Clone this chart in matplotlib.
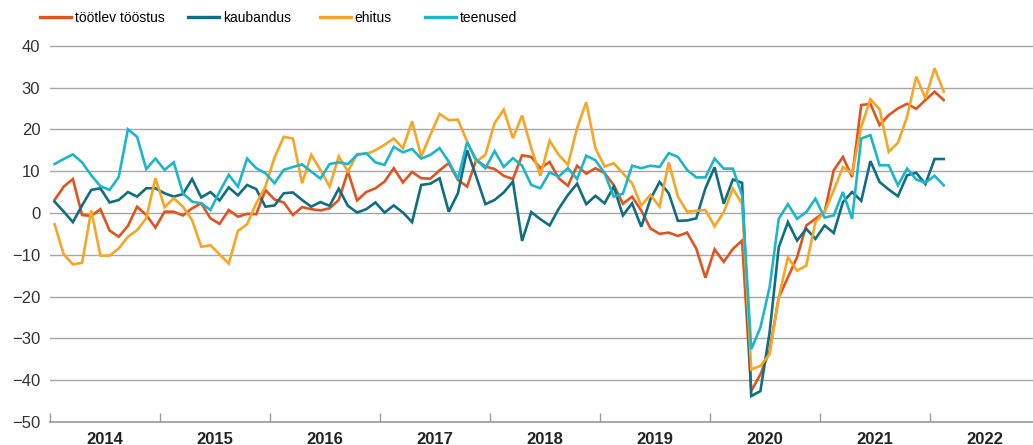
import numpy as np
import matplotlib
matplotlib.use("Agg")
import matplotlib.pyplot as plt
from matplotlib.ticker import FixedLocator, NullFormatter, FixedFormatter

# kuised andmed, jaanuar 2014 - veebruar 2022
start_year = 2014
years = [2014, 2015, 2016, 2017, 2018, 2019, 2020, 2021, 2022]

labels = ["töötlev tööstus", "kaubandus", "ehitus", "teenused"]
colors = ["#E0541F", "#0F6E82", "#F6A526", "#1BB6CC"]

tootlev = [
    3.1, 6.3, 8.1, -0.5, -0.7, 0.9, -4.2, -5.7, -3.1, 1.5, -0.5, -3.5,
    0.3, 0.3, -0.6, 1.1, 2.3, -1.3, -2.6, 0.7, -0.9, -0.2, -0.3, 5.5,
    3.2, 2.5, -0.5, 1.4, 0.9, 0.6, 1.1, 3.1, 9.9, 3.0, 5.0, 5.9,
    7.5, 10.7, 7.3, 9.8, 8.3, 8.2, 10.2, 11.9, 7.9, 6.3, 12.7, 11.1,
    10.5, 8.9, 8.1, 13.8, 13.4, 10.7, 12.2, 8.3, 6.5, 11.3, 9.4, 10.7,
    9.5, 6.7, 2.2, 3.9, 0.6, -3.7, -5.0, -4.7, -5.5, -4.7, -8.5, -15.5,
    -8.7, -11.7, -8.6, -6.6, -42.6, -38.6, -33.0, -20.2, -15.4, -10.6, -3.0, -1.4,
    0.2, 10.2, 13.4, 8.6, 25.8, 26.1, 21.0, 23.4, 25.0, 26.1, 24.9, 27.0,
    29.0, 27.0,
]

kaubandus = [
    2.7, 0.3, -2.2, 1.8, 5.5, 5.9, 2.5, 3.1, 5.0, 3.9, 5.9, 5.9,
    4.7, 3.9, 4.5, 8.1, 3.7, 5.0, 3.0, 6.1, 4.2, 6.7, 5.7, 1.5,
    1.8, 4.7, 4.9, 3.1, 1.5, 2.6, 1.7, 5.8, 1.7, 0.1, 0.9, 2.5,
    0.1, 1.8, 0.1, -2.2, 6.7, 7.0, 8.3, 0.3, 4.7, 15.0, 8.7, 2.1,
    3.1, 4.9, 7.5, -6.7, 0.2, -1.5, -3.0, 1.0, 4.3, 7.0, 2.1, 4.1,
    2.3, 6.3, -0.6, 2.3, -3.3, 3.3, 7.4, 4.7, -1.9, -1.8, -1.3, 5.9,
    10.9, 2.2, 8.0, 7.2, -43.8, -42.6, -28.6, -8.2, -2.2, -6.6, -3.8, -6.2,
    -3.0, -4.8, 2.6, 5.0, 2.9, 12.4, 7.4, 5.6, 4.0, 9.0, 9.6, 6.9,
    12.9, 12.9,
]

ehitus = [
    -2.7, -9.9, -12.3, -11.9, 0.6, -10.2, -10.2, -8.5, -5.7, -4.1, -1.3, 8.3,
    1.4, 3.5, 1.5, -1.7, -8.1, -7.7, -9.9, -12.1, -4.3, -2.7, 2.3, 6.3,
    13.3, 18.2, 17.8, 7.1, 13.9, 10.3, 6.3, 13.5, 9.9, 14.1, 14.1, 15.0,
    16.3, 17.8, 15.5, 21.9, 13.5, 18.7, 23.7, 22.2, 22.3, 17.1, 12.3, 13.9,
    21.5, 24.7, 17.9, 23.3, 15.5, 8.9, 17.3, 13.9, 11.5, 20.3, 26.5, 15.5,
    11.1, 11.9, 9.5, 7.1, 1.8, 4.3, 1.5, 12.1, 3.9, 0.3, 0.5, 0.7,
    -3.2, 0.2, 5.8, 2.2, -37.4, -36.6, -33.8, -20.2, -10.6, -13.8, -12.6, -2.2,
    0.2, 5.4, 11.0, 9.4, 20.6, 27.2, 24.8, 14.6, 16.8, 23.0, 32.6, 27.4,
    34.6, 29.0,
]

teenused = [
    11.7, 12.9, 14.0, 12.1, 9.0, 6.4, 5.5, 8.6, 20.0, 18.2, 10.5, 13.0,
    10.3, 12.1, 4.7, 2.7, 2.3, 0.7, 5.1, 9.1, 6.3, 13.0, 10.7, 9.5,
    7.1, 10.3, 11.0, 11.6, 9.9, 8.2, 11.7, 12.1, 11.7, 13.9, 14.3, 12.1,
    11.5, 15.8, 14.5, 15.3, 13.0, 13.9, 15.5, 12.3, 8.1, 16.9, 12.7, 10.7,
    14.8, 11.0, 13.1, 11.3, 6.7, 5.9, 9.7, 8.7, 10.7, 8.1, 13.7, 12.6,
    9.5, 3.9, 4.6, 11.3, 10.7, 11.3, 11.0, 14.3, 13.4, 10.3, 8.5, 8.5,
    13.0, 10.6, 10.6, 4.2, -32.6, -27.4, -17.8, -1.4, 2.1, -1.4, 0.2, 3.4,
    -1.1, -0.6, 5.0, -1.4, 17.8, 18.6, 11.4, 11.4, 6.6, 10.6, 8.0, 7.2,
    8.9, 6.6,
]

series = [tootlev, kaubandus, ehitus, teenused]

plt.rcParams['font.family'] = ['Liberation Sans', 'DejaVu Sans']

W, H = 1033, 445
fig = plt.figure(figsize=(W / 100, H / 100), dpi=100)
# telje asukoht pikslites
ax = fig.add_axes([50 / W, 23 / H, 983 / W, 378.4 / H])

x = start_year + (np.arange(len(tootlev)) + 0.5) / 12
handles = []
for vals, lab, col in zip(series, labels, colors):
    ln, = ax.plot(x, vals, color=col, lw=1.9, label=lab, solid_joinstyle='miter')
    handles.append(ln)

ax.set_xlim(2014, 2014 + 983 / 110)
ax.set_ylim(-50, 40.5)
ax.set_yticks(range(-50, 41, 10))
ax.grid(axis='y', color='#a6a6a6', lw=1.0)
ax.set_axisbelow(True)
ax.tick_params(axis='y', length=0, pad=7, labelsize=12, labelcolor='#333333')

for s in ['top', 'right', 'left']:
    ax.spines[s].set_visible(False)
ax.spines['bottom'].set_color('#9a9a9a')
ax.spines['bottom'].set_linewidth(1.2)

ax.xaxis.set_major_locator(FixedLocator(years))
ax.xaxis.set_major_formatter(NullFormatter())
ax.xaxis.set_minor_locator(FixedLocator([y + 0.5 for y in years]))
ax.xaxis.set_minor_formatter(FixedFormatter([str(y) for y in years]))
ax.tick_params(axis='x', which='major', direction='in', length=6.5, width=1.0, color='#9a9a9a')
ax.tick_params(axis='x', which='minor', length=0, pad=7, labelsize=12, labelcolor='#222222')
for t in ax.xaxis.get_minorticklabels():
    t.set_fontweight('bold')

# legendi kirjed eraldi, et asukohad klapiksid
legend_x = [40, 188, 320, 425]
for h, lx in zip(handles, legend_x):
    leg = fig.legend([h], [h.get_label()], loc='center left',
                     bbox_to_anchor=(lx / W, 1 - 18 / H), frameon=False,
                     fontsize=10, handlelength=2.2, handletextpad=0.3,
                     borderpad=0, borderaxespad=0)
    for line in leg.get_lines():
        line.set_linewidth(2.4)

plt.savefig("out.png", dpi=100)
